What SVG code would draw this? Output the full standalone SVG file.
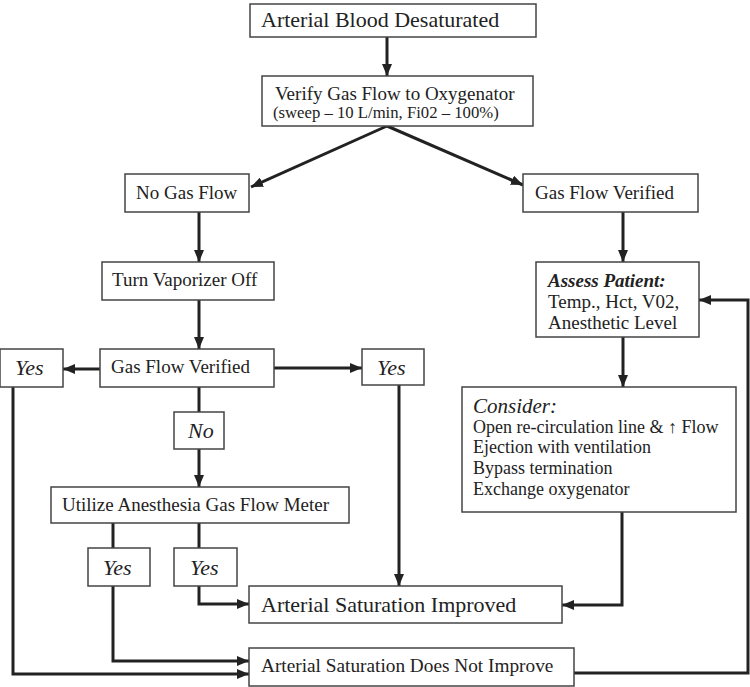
<svg xmlns="http://www.w3.org/2000/svg" width="750" height="687" viewBox="0 0 750 687">
<defs>
<marker id="ah" markerUnits="userSpaceOnUse" markerWidth="12" markerHeight="10" refX="12" refY="5" orient="auto">
<path d="M0,0 L12,5 L0,10 z" fill="#222"/>
</marker>
<style>
.box{fill:#fff;stroke:#444;stroke-width:1.5}
.t{font-family:"Liberation Serif","Times New Roman",serif;fill:#222;font-size:19px}
.it{font-style:italic;font-size:22px}
.c{stroke:#222;stroke-width:3;fill:none}
.a{marker-end:url(#ah)}
</style>
</defs>
<rect width="750" height="687" fill="#fff"/>
<g id="connectors">
<line class="c a" x1="387" y1="37" x2="387" y2="76"/>
<line class="c a" x1="387" y1="126" x2="251" y2="187"/>
<line class="c a" x1="387" y1="126" x2="523" y2="185"/>
<line class="c a" x1="199" y1="212" x2="199" y2="262"/>
<line class="c a" x1="623" y1="212" x2="623" y2="262"/>
<line class="c a" x1="199" y1="300" x2="199" y2="349"/>
<line class="c a" x1="100" y1="369" x2="63" y2="369"/>
<line class="c a" x1="274" y1="368" x2="362" y2="368"/>
<line class="c" x1="199" y1="387" x2="199" y2="412"/>
<line class="c a" x1="199" y1="449" x2="199" y2="487"/>
<line class="c a" x1="623" y1="337" x2="623" y2="387"/>
<line class="c a" x1="399" y1="385" x2="399" y2="586"/>
<line class="c" x1="113" y1="523" x2="113" y2="548"/>
<line class="c" x1="199" y1="523" x2="199" y2="548"/>
<polyline class="c a" points="199,586 199,604 249,604"/>
<polyline class="c a" points="113,586 113,661 249,661"/>
<polyline class="c a" points="13,387 13,674 249,674"/>
<polyline class="c a" points="622,512 622,605 562,605"/>
<polyline class="c a" points="574,673 748,673 748,300 699,300"/>
</g>
<g id="n1"><rect class="box" x="250" y="4" width="286" height="33"/><text class="t" x="261" y="27" style="font-size:22px">Arterial Blood Desaturated</text></g>
<g id="n2"><rect class="box" x="262" y="76" width="271" height="50"/><text class="t" x="275" y="100">Verify Gas Flow to Oxygenator</text><text class="t" x="273" y="118" style="font-size:16.7px">(sweep – 10 L/min, Fi02 – 100%)</text></g>
<g id="n3"><rect class="box" x="125" y="174" width="124" height="38"/><text class="t" x="136" y="199">No Gas Flow</text></g>
<g id="n4"><rect class="box" x="523" y="174" width="175" height="38"/><text class="t" x="535" y="199">Gas Flow Verified</text></g>
<g id="n5"><rect class="box" x="102" y="262" width="172" height="38"/><text class="t" x="112" y="286">Turn Vaporizer Off</text></g>
<g id="n6"><rect class="box" x="536" y="262" width="163" height="75"/><text class="t" x="548" y="287" style="font-style:italic;font-weight:bold">Assess Patient:</text><text class="t" x="548" y="308">Temp., Hct, V02,</text><text class="t" x="548" y="329">Anesthetic Level</text></g>
<g id="n7"><rect class="box" x="100" y="349" width="174" height="38"/><text class="t" x="111" y="373">Gas Flow Verified</text></g>
<g id="n8"><rect class="box" x="0" y="349" width="63" height="38"/><text class="t it" x="15" y="375">Yes</text></g>
<g id="n9"><rect class="box" x="362" y="349" width="62" height="36"/><text class="t it" x="377" y="375">Yes</text></g>
<g id="n10"><rect class="box" x="174" y="412" width="50" height="37"/><text class="t it" x="188" y="438">No</text></g>
<g id="n11"><rect class="box" x="462" y="387" width="274" height="125"/><text class="t" x="473" y="413" style="font-style:italic;font-size:21px">Consider:</text><text class="t" x="473" y="433" style="font-size:18px">Open re-circulation line &amp; ↑ Flow</text><text class="t" x="473" y="453" style="font-size:18px">Ejection with ventilation</text><text class="t" x="473" y="474" style="font-size:18px">Bypass termination</text><text class="t" x="473" y="495" style="font-size:18px">Exchange oxygenator</text></g>
<g id="n12"><rect class="box" x="51" y="487" width="298" height="36"/><text class="t" x="62" y="511">Utilize Anesthesia Gas Flow Meter</text></g>
<g id="n13"><rect class="box" x="88" y="548" width="62" height="38"/><text class="t it" x="103" y="575">Yes</text></g>
<g id="n14"><rect class="box" x="174" y="548" width="63" height="38"/><text class="t it" x="190" y="575">Yes</text></g>
<g id="n15"><rect class="box" x="249" y="586" width="313" height="37"/><text class="t" x="261" y="612" style="font-size:22px">Arterial Saturation Improved</text></g>
<g id="n16"><rect class="box" x="249" y="648" width="325" height="38"/><text class="t" x="261" y="672" style="font-size:19.3px">Arterial Saturation Does Not Improve</text></g>
</svg>
